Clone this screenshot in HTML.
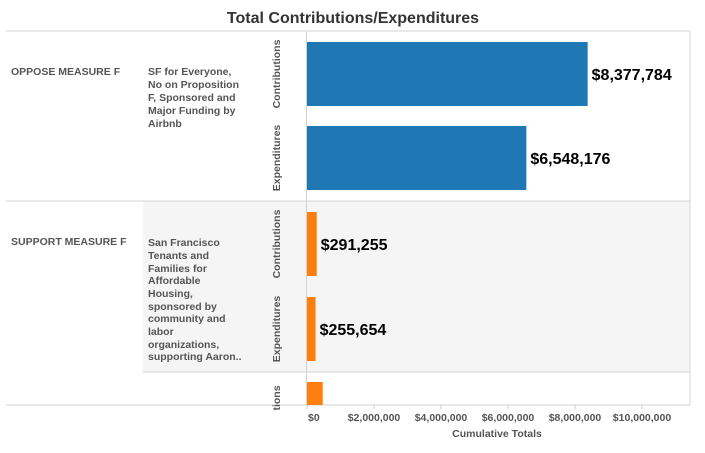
<!DOCTYPE html>
<html><head><meta charset="utf-8"><style>
body{margin:0;background:#fff;font-family:"Liberation Sans",Arial,sans-serif;}
svg text{font-family:"Liberation Sans",Arial,sans-serif;}
</style></head><body>
<svg id="chart" width="705" height="448">
<text x="353" y="23" text-anchor="middle" font-size="16" font-weight="bold" fill="#333">Total Contributions/Expenditures</text>
<rect x="143" y="201" width="547" height="171" fill="#f5f5f5"/>
<line x1="6" y1="31" x2="690" y2="31" stroke="#d4d4d4"/>
<line x1="6" y1="201" x2="690" y2="201" stroke="#d4d4d4"/>
<line x1="143" y1="372" x2="690" y2="372" stroke="#d4d4d4"/>
<line x1="6" y1="405" x2="690" y2="405" stroke="#d4d4d4"/>
<line x1="306.5" y1="31" x2="306.5" y2="405" stroke="#d4d4d4"/>
<line x1="690" y1="31" x2="690" y2="405" stroke="#d4d4d4"/>
<g font-size="10.5" font-weight="bold" fill="#555">
<text x="11" y="75">OPPOSE MEASURE F</text>
<text x="11" y="245">SUPPORT MEASURE F</text>
<text><tspan x="148" y="75">SF for Everyone,</tspan><tspan x="148" y="88">No on Proposition</tspan><tspan x="148" y="101">F, Sponsored and</tspan><tspan x="148" y="114">Major Funding by</tspan><tspan x="148" y="127">Airbnb</tspan></text>
<text><tspan x="148" y="246">San Francisco</tspan><tspan x="148" y="259">Tenants and</tspan><tspan x="148" y="272">Families for</tspan><tspan x="148" y="284">Affordable</tspan><tspan x="148" y="297">Housing,</tspan><tspan x="148" y="310">sponsored by</tspan><tspan x="148" y="322">community and</tspan><tspan x="148" y="335">labor</tspan><tspan x="148" y="348">organizations,</tspan><tspan x="148" y="360">supporting Aaron..</tspan></text>
</g>
<g id="marks"></g>
<text x="497" y="437" text-anchor="middle" font-size="10.5" font-weight="bold" fill="#555">Cumulative Totals</text>
</svg>
<script>
const categories=["Contributions","Expenditures","Contributions","Expenditures","Contributions"];
const values=[8377784,6548176,291255,255654,470000];
const valueLabels=["$8,377,784","$6,548,176","$291,255","$255,654",""];
const groups=["oppose","oppose","support","support","other"];
const tickValues=[0,2000000,4000000,6000000,8000000,10000000];
const tickLabels=["$0","$2,000,000","$4,000,000","$6,000,000","$8,000,000","$10,000,000"];
const NS="http://www.w3.org/2000/svg";
const g=document.getElementById('marks');
function x(v){return 307+v*33.5/1000000;}
const rowTop=[42,126,212,297,382];
const rowH=[64,64,64,64,23];
function mk(t,a){const e=document.createElementNS(NS,t);for(const k in a)e.setAttribute(k,a[k]);g.appendChild(e);return e;}
values.forEach((v,i)=>{
 const r=mk('rect',{x:x(0),y:rowTop[i],width:x(v)-x(0),height:rowH[i],fill:groups[i]==='oppose'?'#1f77b4':'#ff7f0e'});
 
 
 if(valueLabels[i]){
  const t=mk('text',{x:x(v)+4,y:rowTop[i]+rowH[i]/2+6,'font-size':'16','font-weight':'bold',fill:'#000'});
  t.textContent=valueLabels[i];
  
  
 }
 const cy=i<4?rowTop[i]+rowH[i]/2:398;
 const lbl=i<4?categories[i]:"tions";
 const c=mk('text',{x:0,y:0,transform:`translate(${280},${cy}) rotate(-90)`,'text-anchor':'middle','font-size':'10.5','font-weight':'bold',fill:'#555'});
 c.textContent=lbl;
 
 
});
tickValues.forEach((v,i)=>{
 const l=mk('line',{x1:x(v),x2:x(v),y1:405,y2:409,stroke:'#ccc'});
 
 
 const t=mk('text',{x:i===0?x(v)+1:x(v),y:421,'text-anchor':i===0?'start':'middle','font-size':'10.5','font-weight':'bold',fill:'#555'});
 t.textContent=tickLabels[i];
 
 
});
</script>
</body></html>
